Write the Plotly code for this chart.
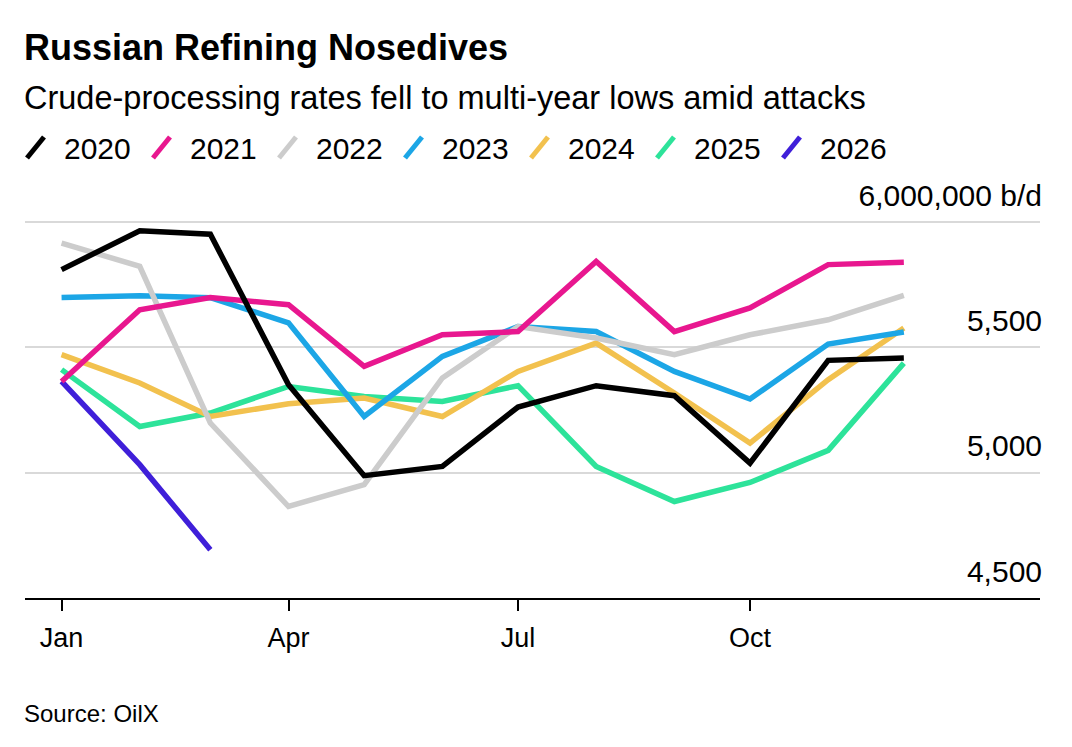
import plotly.graph_objects as go

# ---------------- data (thousand barrels/day) ----------------
months = ["2021-01-01", "2021-02-01", "2021-03-01", "2021-04-01", "2021-05-01", "2021-06-01",
          "2021-07-01", "2021-08-01", "2021-09-01", "2021-10-01", "2021-11-01", "2021-12-01"]
years = ["2020", "2021", "2022", "2023", "2024", "2025", "2026"]
v2020 = [5810, 5965, 5951, 5351, 4988, 5025, 5262, 5347, 5307, 5038, 5448, 5457]
v2021 = [5364, 5650, 5699, 5670, 5424, 5550, 5563, 5843, 5563, 5657, 5830, 5839]
v2022 = [5916, 5823, 5198, 4865, 4952, 5378, 5583, 5537, 5471, 5550, 5610, 5707]
v2023 = [5699, 5706, 5698, 5598, 5224, 5464, 5583, 5563, 5404, 5294, 5513, 5561]
v2024 = [5471, 5358, 5224, 5275, 5298, 5224, 5404, 5517, 5318, 5118, 5371, 5577]
v2025 = [5411, 5184, 5238, 5344, 5304, 5284, 5347, 5025, 4885, 4961, 5089, 5437]
v2026 = [5364, 5032, 4692]
series = [v2020, v2021, v2022, v2023, v2024, v2025, v2026]

x_tickvals = ["2021-01-01", "2021-04-01", "2021-07-01", "2021-10-01"]
x_ticktext = ["Jan", "Apr", "Jul", "Oct"]
y_tickvals = [4500, 5000, 5500, 6000]
y_ticktext = ["4,500", "5,000", "5,500", "6,000,000 b/d"]

colors = ["#000000", "#e8178f", "#cccccc", "#1ca6e6", "#f2c14e", "#2de39a", "#3f1fd9"]

# ---------------- layout geometry (pixels) ----------------
W, H = 1072, 747
L, R, T, B = 25, 32, 170, 149
PW = W - L - R
PH = H - T - B
FONT = "Liberation Sans, Arial, sans-serif"
Y_LO = 4500
Y_HI = Y_LO + PH * 1500 / 376.0   # 4,500 -> 6,000 spans 376 px


def py(p):
    return (H - B - p) / PH


def px(p):
    return (p - L) / PW


fig = go.Figure()

# draw latest first so earlier years sit on top
for i in reversed(range(len(years))):
    vals = series[i]
    fig.add_trace(go.Scatter(
        x=months[:len(vals)], y=vals, mode="lines", name=years[i],
        line=dict(color=colors[i], width=5.5),
        showlegend=False, hoverinfo="skip"))

annotations = [
    dict(text="<b>Russian Refining Nosedives</b>", x=0, xshift=-3, y=py(47), xref="paper", yref="paper",
         xanchor="left", yanchor="middle", showarrow=False,
         font=dict(family=FONT, size=36, color="#000000")),
    dict(text="Crude-processing rates fell to multi-year lows amid attacks", x=0, xshift=-3, y=py(98.5),
         xref="paper", yref="paper", xanchor="left", yanchor="middle", showarrow=False,
         font=dict(family=FONT, size=32.5, color="#000000")),
    dict(text="Source: OilX", x=0, xshift=-3, y=py(713), xref="paper", yref="paper",
         xanchor="left", yanchor="middle", showarrow=False,
         font=dict(family=FONT, size=24, color="#000000")),
]
shapes = []
for i, yr in enumerate(years):
    x0 = 27 + i * 126
    shapes.append(dict(type="line", xref="paper", yref="paper",
                       x0=px(x0), y0=py(158), x1=px(x0 + 17), y1=py(137),
                       line=dict(color=colors[i], width=5)))
    annotations.append(dict(text=yr, x=0, xshift=x0 + 37 - L - 2, y=py(148.5),
                            xref="paper", yref="paper", xanchor="left", yanchor="middle",
                            showarrow=False, font=dict(family=FONT, size=30, color="#000000")))

fig.update_layout(
    width=W, height=H,
    margin=dict(l=L, r=R, t=T, b=B, pad=0),
    paper_bgcolor="#ffffff", plot_bgcolor="#ffffff",
    font=dict(family=FONT, color="#000000"),
    annotations=annotations, shapes=shapes,
    xaxis=dict(
        type="date", range=["2020-12-17 12:00", "2022-01-24"],
        tickvals=x_tickvals, ticktext=x_ticktext,
        ticks="outside", ticklen=11, tickwidth=2, tickcolor="#000000",
        showline=True, linecolor="#000000", linewidth=2,
        showgrid=False, zeroline=False,
        tickfont=dict(family=FONT, size=27, color="#000000"),
        ticklabelstandoff=4,
    ),
    yaxis=dict(
        range=[Y_LO, Y_HI], side="right",
        tickvals=y_tickvals, ticktext=y_ticktext,
        ticklabelposition="inside top", ticks="",
        ticklabelstandoff=-5, ticklabelshift=-6,
        showline=False, zeroline=False,
        showgrid=True, gridcolor="#d9d9d9", gridwidth=2,
        tickfont=dict(family=FONT, size=30, color="#000000"),
    ),
)

fig.write_html("out.html", config={"displayModeBar": False},
               post_script="document.body.style.margin='0';")
